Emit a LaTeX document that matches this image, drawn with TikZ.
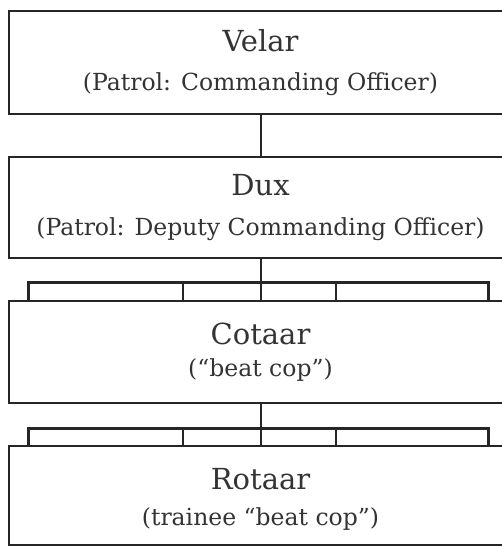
\documentclass[tikz,border=0pt]{standalone}
\usepackage{fontspec}
\setmainfont{DejaVu Serif}
\begin{document}
\begin{tikzpicture}[x=1pt,y=-1pt,
  box/.style={draw=black!85, line width=1.8pt, rectangle, inner sep=0pt, align=center, text=black!80},
  conn/.style={draw=black!85, line width=2.6pt},
  busline/.style={draw=black!85, line width=3pt},
  tick/.style={draw=black!85, line width=2.6pt},
]
\newcommand{\toptext}[1]{\fontsize{29}{29}\selectfont #1}
\newcommand{\subtext}[1]{\fontsize{23.5}{23.5}\selectfont #1}
\useasboundingbox (0,0) rectangle (502,548);
\clip (0,0) rectangle (502,548);
% boxes (right edge runs off the page)
\node[box, minimum width=503pt, minimum height=103pt] (velar) at (260.5,62.5)
  {\toptext{Velar}\\[20pt]\subtext{(Patrol: Commanding Officer)}};
\node[box, minimum width=503pt, minimum height=101pt] (dux) at (260.5,207.5)
  {\toptext{Dux}\\[20pt]\subtext{(Patrol: Deputy Commanding Officer)}};
\node[box, minimum width=503pt, minimum height=102pt] (cot) at (260.5,352)
  {\toptext{Cotaar}\\[13pt]\subtext{(“beat cop”)}};
\node[box, minimum width=503pt, minimum height=99pt] (rot) at (260.5,495.5)
  {\rule{0pt}{29pt}\toptext{Rotaar}\\[17pt]\subtext{(trainee “beat cop”)}};
% connector Velar -> Dux
\draw[conn] (velar.south -| 261,0) -- (dux.north -| 261,0);
% bus Dux -> Cotaar
\coordinate (busA) at (261,282);
\coordinate (a1) at (28,301);
\coordinate (a2) at (183,301);
\coordinate (a3) at (261,301);
\coordinate (a4) at (336,301);
\coordinate (a5) at (488,301);
\draw[conn] (dux.south -| busA) -- (busA);
\draw[busline] (a1) |- (busA) -| (a5);
\draw[tick] (a2 |- busA) -- (a2);
\draw[tick] (busA) -- (a3);
\draw[tick] (a4 |- busA) -- (a4);
% bus Cotaar -> Rotaar
\coordinate (busB) at (261,428);
\coordinate (b1) at (28,446);
\coordinate (b2) at (183,446);
\coordinate (b3) at (261,446);
\coordinate (b4) at (336,446);
\coordinate (b5) at (488,446);
\draw[conn] (cot.south -| busB) -- (busB);
\draw[busline] (b1) |- (busB) -| (b5);
\draw[tick] (b2 |- busB) -- (b2);
\draw[tick] (busB) -- (b3);
\draw[tick] (b4 |- busB) -- (b4);
\end{tikzpicture}
\end{document}
